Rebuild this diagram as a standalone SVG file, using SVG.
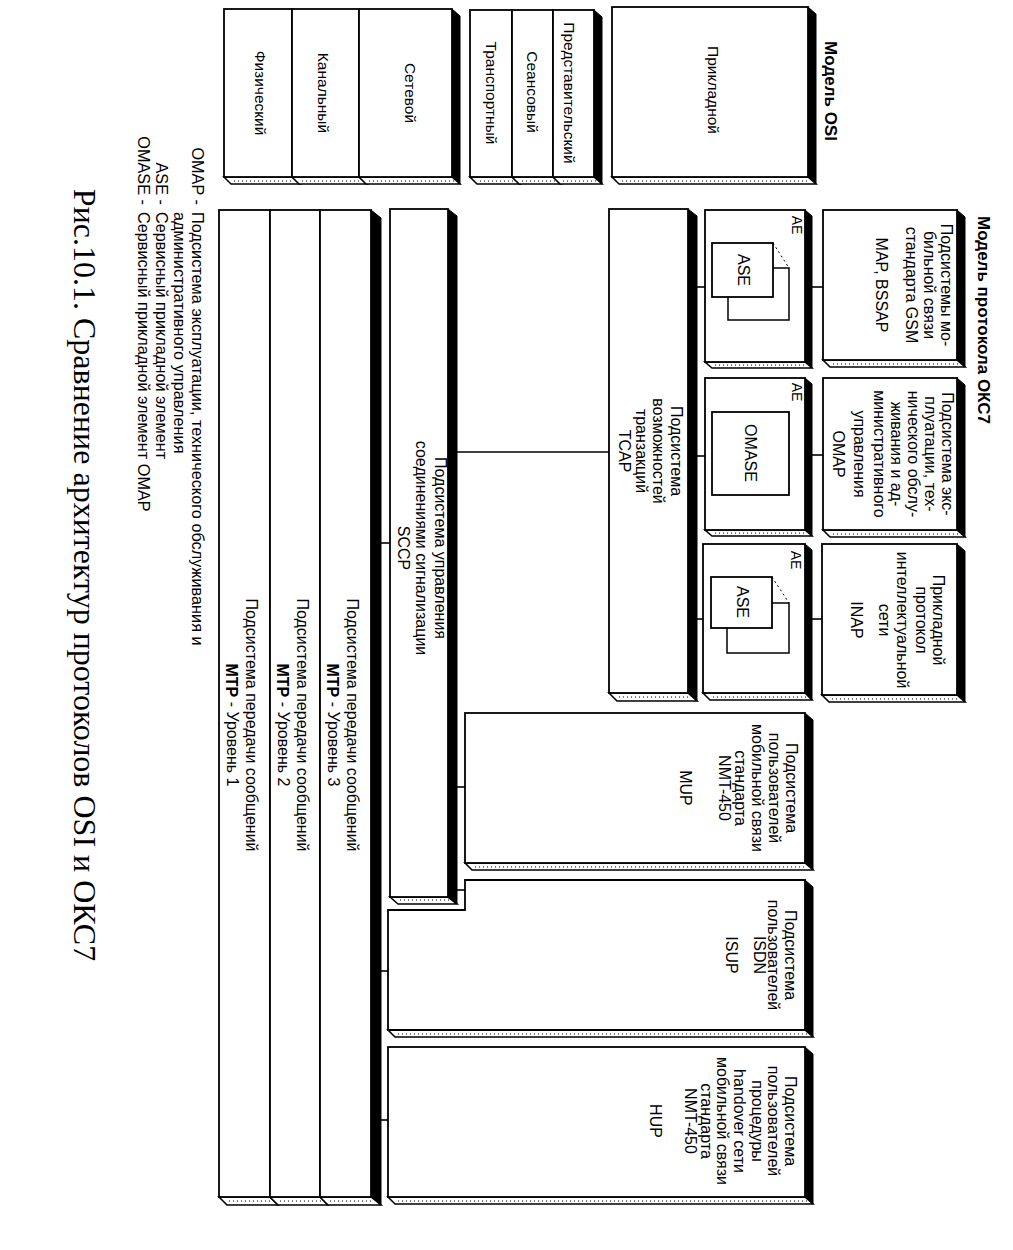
<svg xmlns="http://www.w3.org/2000/svg" width="1013" height="1250" viewBox="0 0 1013 1250">
<style>
.f{fill:#fff;stroke:#000;stroke-width:1.8}
.s{fill:#000;stroke:#000;stroke-width:1}
.b{fill:#fff;stroke:#000;stroke-width:1.6}
.d{stroke:#000;stroke-width:1;stroke-dasharray:1 3;fill:none}
.c{stroke:#000;stroke-width:1.6;fill:none}
.dl{stroke:#000;stroke-width:1;stroke-dasharray:2 3;fill:none}
text{font-family:"Liberation Sans",Arial,sans-serif;fill:#000}
.t{font-size:16px;text-anchor:middle;dominant-baseline:central}
.o{font-size:15.5px;text-anchor:middle;dominant-baseline:central}
.h{font-size:17px;font-weight:bold;text-anchor:middle;dominant-baseline:central}
.l{font-size:16.3px;text-anchor:start;dominant-baseline:central}
.le{font-size:16.3px;text-anchor:end;dominant-baseline:central}
.cap{font-family:"Liberation Serif","Times New Roman",serif;font-size:32px;text-anchor:middle;dominant-baseline:central}
</style>

<g id="connectors">
<line class="c" x1="805" y1="287" x2="823" y2="287"/>
<line class="c" x1="805" y1="455" x2="823" y2="455"/>
<line class="c" x1="805" y1="619" x2="822" y2="619"/>
<line class="c" x1="688" y1="287" x2="705" y2="287"/>
<line class="c" x1="688" y1="456" x2="705" y2="456"/>
<line class="c" x1="688" y1="619" x2="703" y2="619"/>
<line class="c" x1="448" y1="452" x2="609" y2="452"/>
<line class="c" x1="371" y1="543" x2="390" y2="543"/>
<line class="c" x1="448" y1="787" x2="465" y2="787"/>
<line class="c" x1="448" y1="890" x2="465" y2="890"/>
<line class="c" x1="371" y1="971" x2="388" y2="971"/>
<line class="c" x1="371" y1="1120" x2="388" y2="1120"/>
</g>

<text id="title-osi" class="h" transform="translate(830,91) rotate(90)">Модель OSI</text>
<text id="title-okc7" class="h" transform="translate(983,320) rotate(90)">Модель протокола ОКС7</text>

<g id="osi-app">
<polygon class="s" points="808,7 816,14 816,184 808,177"/>
<polygon class="b" points="612,177 619,184 816,184 808,177"/>
<line class="d" x1="622" y1="181" x2="810" y2="181"/>
<rect class="f" x="612" y="7" width="196" height="170"/>
<text class="o" transform="translate(713,90) rotate(90)">Прикладной</text>
</g>

<g id="osi-upper">
<polygon class="s" points="594,10 602,17 602,184 594,177"/>
<polygon class="b" points="470,177 477,184 520,184 512,177"/>
<polygon class="b" points="512,177 519,184 561,184 553,177"/>
<polygon class="b" points="553,177 560,184 602,184 594,177"/>
<line class="d" x1="480" y1="181" x2="514" y2="181"/>
<line class="d" x1="522" y1="181" x2="555" y2="181"/>
<line class="d" x1="563" y1="181" x2="596" y2="181"/>
<rect class="f" x="470" y="10" width="42" height="167"/>
<rect class="f" x="512" y="10" width="41" height="167"/>
<rect class="f" x="553" y="10" width="41" height="167"/>
<text class="o" transform="translate(569,93) rotate(90)">Представительский</text>
<text class="o" transform="translate(532,92) rotate(90)">Сеансовый</text>
<text class="o" transform="translate(491,93) rotate(90)">Транспортный</text>
</g>

<g id="osi-lower">
<polygon class="s" points="452,9 460,16 460,184 452,177"/>
<polygon class="b" points="224,177 231,184 300,184 292,177"/>
<polygon class="b" points="292,177 299,184 367,184 359,177"/>
<polygon class="b" points="359,177 366,184 460,184 452,177"/>
<line class="d" x1="234" y1="181" x2="294" y2="181"/>
<line class="d" x1="302" y1="181" x2="361" y2="181"/>
<line class="d" x1="369" y1="181" x2="454" y2="181"/>
<rect class="f" x="224" y="9" width="68" height="168"/>
<rect class="f" x="292" y="9" width="67" height="168"/>
<rect class="f" x="359" y="9" width="93" height="168"/>
<text class="o" transform="translate(410,93) rotate(90)">Сетевой</text>
<text class="o" transform="translate(323,93) rotate(90)">Канальный</text>
<text class="o" transform="translate(260,93) rotate(90)">Физический</text>
</g>

<g id="map">
<polygon class="s" points="957,210 965,217 965,367 957,360"/>
<polygon class="b" points="823,360 830,367 965,367 957,360"/>
<line class="d" x1="833" y1="364" x2="959" y2="364"/>
<rect class="f" x="823" y="210" width="134" height="150"/>
<text class="t" transform="translate(946,285) rotate(90)">Подсистемы мо-</text>
<text class="t" transform="translate(929,285) rotate(90)">бильной связи</text>
<text class="t" transform="translate(911,285) rotate(90)">стандарта GSM</text>
<text class="t" transform="translate(881,285) rotate(90)">MAP, BSSAP</text>
</g>

<g id="omap">
<polygon class="s" points="957,378 965,385 965,537 957,530"/>
<polygon class="b" points="823,530 830,537 965,537 957,530"/>
<line class="d" x1="833" y1="534" x2="959" y2="534"/>
<rect class="f" x="823" y="378" width="134" height="152"/>
<text class="t" transform="translate(947,454) rotate(90)">Подсистема экс-</text>
<text class="t" transform="translate(930,454) rotate(90)">плуатации, тех-</text>
<text class="t" transform="translate(913,454) rotate(90)">нического обслу-</text>
<text class="t" transform="translate(896,454) rotate(90)">живания и ад-</text>
<text class="t" transform="translate(879,454) rotate(90)">министративного</text>
<text class="t" transform="translate(859,454) rotate(90)">управления</text>
<text class="t" transform="translate(838,454) rotate(90)">OMAP</text>
</g>

<g id="inap">
<polygon class="s" points="957,544 965,551 965,702 957,695"/>
<polygon class="b" points="822,695 829,702 965,702 957,695"/>
<line class="d" x1="832" y1="699" x2="959" y2="699"/>
<rect class="f" x="822" y="544" width="135" height="151"/>
<text class="t" transform="translate(938,620) rotate(90)">Прикладной</text>
<text class="t" transform="translate(921,620) rotate(90)">протокол</text>
<text class="t" transform="translate(902,620) rotate(90)">интеллектуальной</text>
<text class="t" transform="translate(884,620) rotate(90)">сети</text>
<text class="t" transform="translate(856,620) rotate(90)">INAP</text>
</g>

<g id="ae1">
<polygon class="s" points="805,210 812,216 812,368 805,362"/>
<polygon class="b" points="705,362 712,368 812,368 805,362"/>
<line class="d" x1="715" y1="365" x2="807" y2="365"/>
<rect class="f" x="705" y="210" width="100" height="152"/>
<text class="t" style="font-size:14px" transform="translate(797,225) rotate(90)">AE</text>
<rect class="f" x="728" y="268" width="61" height="52" style="stroke-width:1.5"/>
<line class="dl" x1="773" y1="243" x2="789" y2="268"/>
<rect class="f" x="712" y="243" width="61" height="54"/>
<text class="t" transform="translate(743,270) rotate(90)">ASE</text>
</g>

<g id="ae2">
<polygon class="s" points="805,378 812,384 812,536 805,530"/>
<polygon class="b" points="705,530 712,536 812,536 805,530"/>
<line class="d" x1="715" y1="533" x2="807" y2="533"/>
<rect class="f" x="705" y="378" width="100" height="152"/>
<text class="t" style="font-size:14px" transform="translate(797,392) rotate(90)">AE</text>
<rect class="f" x="712" y="412" width="77" height="83"/>
<text class="t" transform="translate(750,453) rotate(90)">OMASE</text>
</g>

<g id="ae3">
<polygon class="s" points="805,544 812,550 812,700 805,693"/>
<polygon class="b" points="703,693 710,700 812,700 805,693"/>
<line class="d" x1="713" y1="697" x2="807" y2="697"/>
<rect class="f" x="703" y="544" width="102" height="149"/>
<text class="t" style="font-size:14px" transform="translate(796,560) rotate(90)">AE</text>
<rect class="f" x="727" y="603" width="62" height="50" style="stroke-width:1.5"/>
<line class="dl" x1="772" y1="577" x2="789" y2="603"/>
<rect class="f" x="711" y="577" width="61" height="51"/>
<text class="t" transform="translate(742,602) rotate(90)">ASE</text>
</g>

<g id="tcap">
<polygon class="s" points="688,209 697,216 697,701 688,693"/>
<polygon class="b" points="609,693 617,701 697,701 688,693"/>
<line class="d" x1="619" y1="697" x2="690" y2="697"/>
<rect class="f" x="609" y="209" width="79" height="484"/>
<text class="t" transform="translate(676,451) rotate(90)">Подсистема</text>
<text class="t" transform="translate(658,451) rotate(90)">возможностей</text>
<text class="t" transform="translate(641,451) rotate(90)">транзакций</text>
<text class="t" transform="translate(624,451) rotate(90)">TCAP</text>
</g>

<g id="sccp">
<polygon class="s" points="448,209 457,216 457,904 448,897"/>
<polygon class="b" points="390,897 398,904 457,904 448,897"/>
<line class="d" x1="400" y1="900" x2="450" y2="900"/>
<rect class="f" x="390" y="209" width="58" height="688"/>
<text class="t" transform="translate(440,548) rotate(90)">Подсистема управления</text>
<text class="t" transform="translate(421,548) rotate(90)">соединениями сигнализации</text>
<text class="t" transform="translate(403,548) rotate(90)">SCCP</text>
</g>

<g id="mtp">
<polygon class="s" points="371,210 381,218 381,1205 371,1197"/>
<polygon class="b" points="219,1197 227,1205 278,1205 270,1197"/>
<polygon class="b" points="270,1197 278,1205 328,1205 320,1197"/>
<polygon class="b" points="320,1197 328,1205 381,1205 371,1197"/>
<line class="d" x1="229" y1="1201" x2="272" y2="1201"/>
<line class="d" x1="280" y1="1201" x2="322" y2="1201"/>
<line class="d" x1="330" y1="1201" x2="373" y2="1201"/>
<rect class="f" x="219" y="210" width="51" height="987"/>
<rect class="f" x="270" y="210" width="50" height="987"/>
<rect class="f" x="320" y="210" width="51" height="987"/>
<text class="t" transform="translate(352,725) rotate(90)">Подсистема передачи сообщений</text>
<text class="t" transform="translate(333,725) rotate(90)"><tspan font-weight="bold">MTP</tspan> - Уровень 3</text>
<text class="t" transform="translate(302,725) rotate(90)">Подсистема передачи сообщений</text>
<text class="t" transform="translate(283,725) rotate(90)"><tspan font-weight="bold">MTP</tspan> - Уровень 2</text>
<text class="t" transform="translate(251,725) rotate(90)">Подсистема передачи сообщений</text>
<text class="t" transform="translate(232,725) rotate(90)"><tspan font-weight="bold">MTP</tspan> - Уровень 1</text>
</g>

<g id="mup">
<polygon class="s" points="805,713 813,720 813,870 805,863"/>
<polygon class="b" points="465,863 472,870 813,870 805,863"/>
<line class="d" x1="475" y1="867" x2="807" y2="867"/>
<rect class="f" x="465" y="713" width="340" height="150"/>
<text class="t" transform="translate(791,788) rotate(90)">Подсистема</text>
<text class="t" transform="translate(774,788) rotate(90)">пользователей</text>
<text class="t" transform="translate(757,788) rotate(90)">мобильной связи</text>
<text class="t" transform="translate(740,788) rotate(90)">стандарта</text>
<text class="t" transform="translate(724,788) rotate(90)">NMT-450</text>
<text class="t" transform="translate(685,788) rotate(90)">MUP</text>
</g>

<g id="isup">
<polygon class="s" points="805,880 813,887 813,1037 805,1030"/>
<polygon class="b" points="388,1030 395,1037 813,1037 805,1030"/>
<line class="d" x1="398" y1="1034" x2="807" y2="1034"/>
<polygon class="f" points="465,880 805,880 805,1030 388,1030 388,910 465,910"/>
<text class="t" transform="translate(790,955) rotate(90)">Подсистема</text>
<text class="t" transform="translate(773,955) rotate(90)">пользователей</text>
<text class="t" transform="translate(759,955) rotate(90)">ISDN</text>
<text class="t" transform="translate(731,955) rotate(90)">ISUP</text>
</g>

<g id="hup">
<polygon class="s" points="805,1047 813,1054 813,1204 805,1197"/>
<polygon class="b" points="388,1197 395,1204 813,1204 805,1197"/>
<line class="d" x1="398" y1="1201" x2="807" y2="1201"/>
<rect class="f" x="388" y="1047" width="417" height="150"/>
<text class="t" transform="translate(790,1121) rotate(90)">Подсистема</text>
<text class="t" transform="translate(773,1121) rotate(90)">пользователей</text>
<text class="t" transform="translate(757,1121) rotate(90)">процедуры</text>
<text class="t" transform="translate(739,1121) rotate(90)">handover сети</text>
<text class="t" transform="translate(722,1121) rotate(90)">мобильной связи</text>
<text class="t" transform="translate(706,1121) rotate(90)">стандарта</text>
<text class="t" transform="translate(690,1121) rotate(90)">NMT-450</text>
<text class="t" transform="translate(655,1121) rotate(90)">HUP</text>
</g>

<g id="legend">
<text class="le" transform="translate(198,205) rotate(90)">OMAP -</text>
<text class="le" transform="translate(162,205) rotate(90)">ASE -</text>
<text class="le" transform="translate(144,205) rotate(90)">OMASE -</text>
<text class="l" transform="translate(198,212) rotate(90)">Подсистема эксплуатации, технического обслуживания и</text>
<text class="l" transform="translate(180,212) rotate(90)">административного управления</text>
<text class="l" transform="translate(162,212) rotate(90)">Сервисный прикладной элемент</text>
<text class="l" transform="translate(144,212) rotate(90)">Сервисный прикладной элемент OMAP</text>
</g>

<text id="caption" class="cap" transform="translate(85,575) rotate(90)">Рис.10.1. Сравнение архитектур протоколов OSI и ОКС7</text>
</svg>
